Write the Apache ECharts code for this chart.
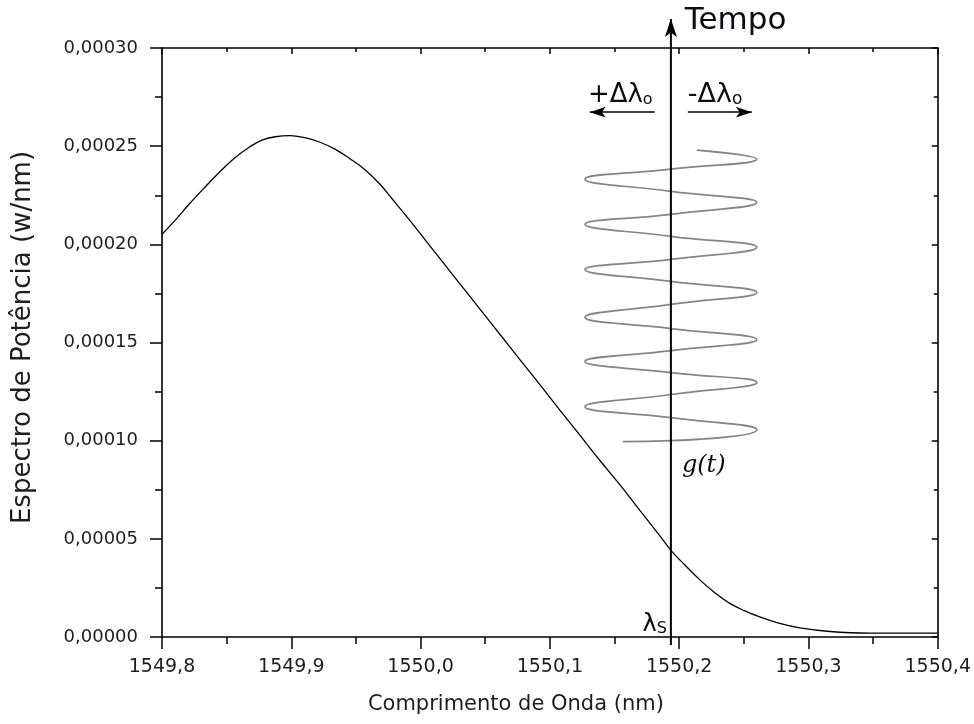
<!DOCTYPE html>
<html>
<head>
<meta charset="utf-8">
<script src="https://cdn.jsdelivr.net/npm/echarts@6/dist/echarts.min.js"></script>
<style>
html,body{margin:0;padding:0;background:#fff;}
#chart{width:974px;height:724px;}
</style>
</head>
<body>
<div id="chart"></div>
<script>
// ---- data ----
const wavelength = [1549.8000, 1549.8101, 1549.8216, 1549.8332, 1549.8448, 1549.8564, 1549.8680, 1549.8773, 1549.8874, 1549.8990, 1549.9106, 1549.9222, 1549.9338, 1549.9454, 1549.9570, 1549.9686, 1549.9786, 1549.9918, 1550.0034, 1550.0149, 1550.0304, 1550.0459, 1550.0613, 1550.0768, 1550.0923, 1550.1077, 1550.1232, 1550.1387, 1550.1541, 1550.1696, 1550.1851, 1550.1943, 1550.2044, 1550.2160, 1550.2276, 1550.2392, 1550.2508, 1550.2624, 1550.2778, 1550.2933, 1550.3165, 1550.3474, 1550.4000];
const power = [0.0002051, 0.0002122, 0.0002209, 0.0002291, 0.0002370, 0.0002441, 0.0002497, 0.0002531, 0.0002548, 0.0002554, 0.0002543, 0.0002520, 0.0002485, 0.0002436, 0.0002380, 0.0002306, 0.0002227, 0.0002121, 0.0002024, 0.0001928, 0.0001799, 0.0001670, 0.0001542, 0.0001413, 0.0001285, 0.0001156, 0.0001028, 0.0000899, 0.0000776, 0.0000645, 0.0000515, 0.0000436, 0.0000367, 0.0000291, 0.0000225, 0.0000171, 0.0000133, 0.0000102, 0.0000069, 0.0000046, 0.0000028, 0.0000020, 0.0000020];

// schematic g(t) spiral (turning points)
const spiralX = [1550.2137, 1550.2601, 1550.1936, 1550.1271, 1550.1936, 1550.2601, 1550.1936, 1550.1271, 1550.1936, 1550.2601, 1550.1936, 1550.1271, 1550.1936, 1550.2601, 1550.1936, 1550.1271, 1550.1936, 1550.2601, 1550.1936, 1550.1271, 1550.1936, 1550.2601, 1550.1936, 1550.1271, 1550.1936, 1550.2601, 1550.1936, 1550.1564];
const spiralY = [0.0002480, 0.0002434, 0.0002383, 0.0002332, 0.0002270, 0.0002214, 0.0002153, 0.0002102, 0.0002041, 0.0001985, 0.0001923, 0.0001872, 0.0001811, 0.0001755, 0.0001694, 0.0001628, 0.0001571, 0.0001515, 0.0001459, 0.0001403, 0.0001347, 0.0001296, 0.0001235, 0.0001173, 0.0001117, 0.0001056, 0.0001000, 0.0000995];

const xTickLabels = ['1549,8', '1549,9', '1550,0', '1550,1', '1550,2', '1550,3', '1550,4'];
const yTickLabels = ['0,00000', '0,00005', '0,00010', '0,00015', '0,00020', '0,00025', '0,00030'];

// annotation anchors (data coordinates)
const lambdaS = 1550.1936;
const timeAxis = [[lambdaS, -0.0000041], [lambdaS, 0.0003148]];
const arrowLeft = [[1550.1812, 0.0002673], [1550.1309, 0.0002673]];
const arrowRight = [[1550.2067, 0.0002673], [1550.2562, 0.0002673]];
const textTempo = [1550.2044, 0.0003140];
const textPlus = [1550.1294, 0.0002694];
const textMinus = [1550.2067, 0.0002694];
const textG = [1550.2021, 0.0000872];
const textLambda = [1550.1905, 0.0];

const SANS = 'DejaVu Sans';
const TXT = '#1e1e1e';
const ANN = '#0c0c14';

const chart = echarts.init(document.getElementById('chart'), null, {renderer: 'canvas'});

const baseAxisLine = {show: true, onZero: false, lineStyle: {color: '#000', width: 1.6}};

function annLabel(extra) {
  return Object.assign({show: true, position: [0, 0], color: ANN, opacity: 1,
    textBorderWidth: 0, textShadowBlur: 0}, extra);
}

const option = {
  animation: false,
  backgroundColor: '#fff',
  grid: {left: 162, right: 36, top: 48, bottom: 87, containLabel: false},
  xAxis: [
    {
      type: 'value', position: 'bottom', min: 1549.8, max: 1550.4, interval: 0.1,
      axisLine: baseAxisLine,
      axisTick: {show: true, inside: false, length: 12, lineStyle: {color: '#000', width: 1.5}},
      minorTick: {show: true, splitNumber: 2, length: 7, lineStyle: {color: '#000', width: 1.5}},
      splitLine: {show: false}, minorSplitLine: {show: false},
      axisLabel: {show: true, margin: 21, fontSize: 19, fontFamily: SANS, color: TXT,
        showMinLabel: true, showMaxLabel: true,
        formatter: (v, i) => xTickLabels[i]},
      name: 'Comprimento de Onda (nm)', nameLocation: 'middle', nameGap: 57,
      nameTextStyle: {fontSize: 21, fontFamily: SANS, color: TXT, padding: [0, 68, 0, 0]}
    },
    {
      type: 'value', position: 'top', min: 1549.8, max: 1550.4, interval: 0.1,
      axisLine: baseAxisLine,
      axisTick: {show: true, inside: true, length: 6, lineStyle: {color: '#000', width: 1.5}},
      minorTick: {show: true, splitNumber: 2, length: 4, lineStyle: {color: '#000', width: 1.5}},
      splitLine: {show: false}, axisLabel: {show: false}
    }
  ],
  yAxis: [
    {
      type: 'value', position: 'left', min: 0, max: 0.0003, interval: 0.00005,
      axisLine: baseAxisLine,
      axisTick: {show: true, inside: false, length: 12, lineStyle: {color: '#000', width: 1.5}},
      minorTick: {show: true, splitNumber: 2, length: 7, lineStyle: {color: '#000', width: 1.5}},
      splitLine: {show: false}, minorSplitLine: {show: false},
      axisLabel: {show: true, margin: 24, fontSize: 18, fontFamily: SANS, color: TXT,
        formatter: (v, i) => yTickLabels[i]},
      name: 'Espectro de Potência (w/nm)', nameLocation: 'middle', nameGap: 126, nameRotate: 90,
      nameTextStyle: {fontSize: 26, fontFamily: SANS, color: TXT, padding: [0, 0, 0, 10]}
    },
    {
      type: 'value', position: 'right', min: 0, max: 0.0003, interval: 0.00005,
      axisLine: baseAxisLine,
      axisTick: {show: true, inside: true, length: 6, lineStyle: {color: '#000', width: 1.5}},
      minorTick: {show: true, splitNumber: 2, length: 4, lineStyle: {color: '#000', width: 1.5}},
      splitLine: {show: false}, axisLabel: {show: false}
    }
  ],
  series: [
    {
      name: 'spectrum', type: 'line', xAxisIndex: 0, yAxisIndex: 0,
      data: wavelength.map((w, i) => [w, power[i]]),
      smooth: 0.4, showSymbol: false, symbol: 'none',
      lineStyle: {color: '#000', width: 1.3}, silent: true
    },
    {
      name: 'g(t)', type: 'line', xAxisIndex: 0, yAxisIndex: 0,
      data: spiralX.map((x, i) => [x, spiralY[i]]),
      smooth: 0.5, showSymbol: false, symbol: 'none',
      lineStyle: {color: '#858585', width: 1.7}, silent: true, z: 3
    },
    {
      name: 'time axis', type: 'line', xAxisIndex: 0, yAxisIndex: 0, clip: false, z: 4,
      silent: true, showSymbol: true,
      lineStyle: {color: '#000', width: 2}, itemStyle: {color: '#000'},
      data: [
        {value: timeAxis[0], symbol: 'none'},
        {value: timeAxis[1], symbol: 'arrow', symbolSize: [9, 18]}
      ]
    },
    {
      name: 'arrows', type: 'line', xAxisIndex: 0, yAxisIndex: 0, data: [], clip: false, z: 4,
      markLine: {
        silent: true, animation: false,
        symbol: ['none', 'arrow'], symbolSize: [8, 16],
        label: {show: false},
        lineStyle: {color: '#000', type: 'solid', width: 1.6},
        data: [
          [{coord: arrowLeft[0]}, {coord: arrowLeft[1]}],
          [{coord: arrowRight[0]}, {coord: arrowRight[1]}]
        ]
      }
    },
    {
      name: 'labels', type: 'scatter', xAxisIndex: 0, yAxisIndex: 0, clip: false, z: 5,
      symbolSize: 0, itemStyle: {color: ANN, opacity: 1}, silent: true,
      emphasis: {disabled: true},
      data: [
        {value: textTempo, label: annLabel({align: 'left', verticalAlign: 'middle',
          formatter: 'Tempo', fontSize: 31, fontFamily: SANS})},
        {value: textPlus, label: annLabel({align: 'left', verticalAlign: 'bottom',
          formatter: '{a|+Δλ}{b|o}',
          rich: {a: {fontSize: 26, fontFamily: SANS, color: ANN, verticalAlign: 'bottom'},
                 b: {fontSize: 16, fontFamily: SANS, color: ANN, verticalAlign: 'bottom'}}})},
        {value: textMinus, label: annLabel({align: 'left', verticalAlign: 'bottom',
          formatter: '{a|-Δλ}{b|o}',
          rich: {a: {fontSize: 27, fontFamily: SANS, color: ANN, verticalAlign: 'bottom'},
                 b: {fontSize: 17, fontFamily: SANS, color: ANN, verticalAlign: 'bottom'}}})},
        {value: textG, label: annLabel({align: 'left', verticalAlign: 'middle',
          formatter: 'g(t)', fontSize: 24, fontStyle: 'italic', fontFamily: 'DejaVu Serif'})},
        {value: textLambda, label: annLabel({align: 'right', verticalAlign: 'bottom',
          formatter: '{a|λ}{b|S}',
          rich: {a: {fontSize: 24, fontFamily: SANS, color: ANN, verticalAlign: 'bottom'},
                 b: {fontSize: 16, fontFamily: SANS, color: ANN, verticalAlign: 'bottom'}}})}
      ]
    }
  ]
};

chart.setOption(option);
</script>
</body>
</html>
